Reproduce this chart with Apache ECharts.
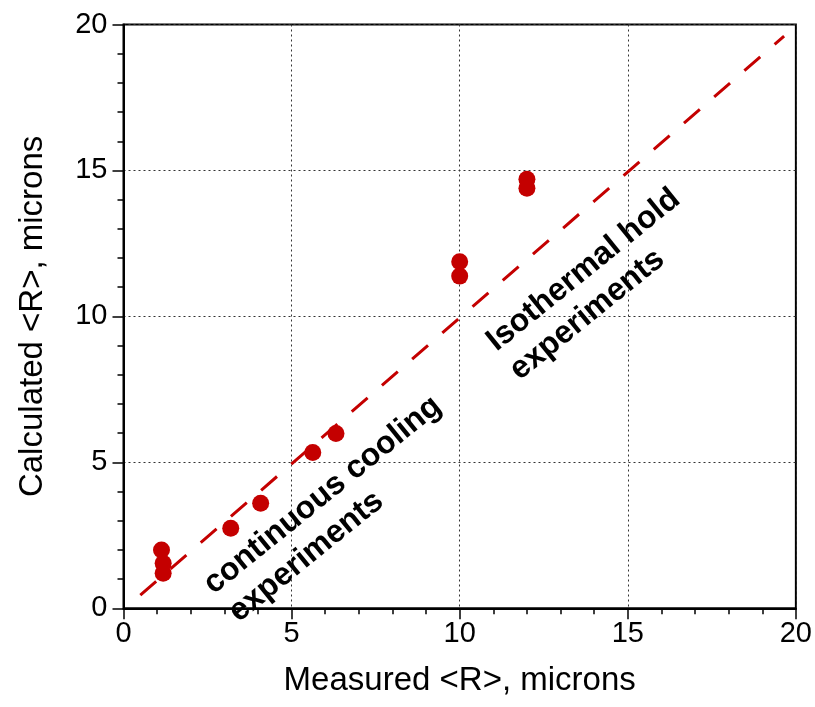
<!DOCTYPE html>
<html>
<head>
<meta charset="utf-8">
<script src="https://cdn.jsdelivr.net/npm/echarts@6/dist/echarts.min.js"></script>
<style>
  html, body { margin: 0; padding: 0; background: #fff; }
  #chart { width: 815px; height: 707px; }
</style>
</head>
<body>
<div id="chart"></div>
<script>
// Mean particle radius: measured vs. calculated (microns)
const measured   = [1.13, 1.18, 1.18, 3.19, 4.08, 5.63, 6.32, 10.0, 10.0, 12.0, 12.0];
const calculated = [2.0, 1.54, 1.2, 2.74, 3.6, 5.34, 5.99, 11.87, 11.38, 14.7, 14.39];

// 1:1 reference line end points
const parityX = [0.5, 19.65];
const parityY = [0.45, 19.6];

const axisTicks = [0, 5, 10, 15, 20];

const FONT = "'Liberation Sans', Arial, sans-serif";
const RED = '#c40000';

const chart = echarts.init(document.getElementById('chart'), null, { renderer: 'canvas' });

function axisCommon(name) {
  return {
    type: 'value',
    min: axisTicks[0],
    max: axisTicks[axisTicks.length - 1],
    interval: axisTicks[1] - axisTicks[0],
    name: name,
    nameLocation: 'middle',
    nameTextStyle: { fontFamily: FONT, fontSize: 33, color: '#000' },
    axisLine: { show: true, onZero: false, lineStyle: { color: '#000', width: 2 } },
    axisTick: { show: true, inside: false, length: 11, lineStyle: { color: '#000', width: 1.5 } },
    minorTick: { show: true, splitNumber: 5, length: 6, lineStyle: { color: '#000', width: 1.5 } },
    minorSplitLine: { show: false },
    splitLine: { show: true, lineStyle: { color: '#333', width: 1, type: [2, 3] } },
    axisLabel: { fontFamily: FONT, fontSize: 29, color: '#000' }
  };
}

const xAxis = axisCommon('Measured <R>, microns');
xAxis.nameGap = 56;
xAxis.axisLabel.margin = 11;

const yAxis = axisCommon('Calculated <R>, microns');
yAxis.nameGap = 74;
yAxis.axisLabel.margin = 16;

const ANGLE = 39 * Math.PI / 180;
function note(text, x, y) {
  return {
    type: 'text', x: x, y: y, rotation: ANGLE, z: 50,
    style: {
      text: text, fill: '#000', fontFamily: FONT, fontWeight: 'bold', fontSize: 32,
      align: 'left', verticalAlign: 'middle'
    }
  };
}

chart.setOption({
  animation: false,
  backgroundColor: '#fff',
  grid: {
    left: 123.5, right: 17.3, top: 24.5, bottom: 98.7,
    show: true, borderColor: '#000', borderWidth: 2, backgroundColor: 'transparent'
  },
  xAxis: xAxis,
  yAxis: yAxis,
  series: [
    {
      type: 'line',
      data: parityX.map((x, i) => [x, parityY[i]]),
      showSymbol: false,
      symbol: 'none',
      lineStyle: { color: RED, width: 3, type: [21, 19] },
      z: 2
    },
    {
      type: 'scatter',
      data: measured.map((x, i) => [x, calculated[i]]),
      symbol: 'circle',
      symbolSize: 17,
      itemStyle: { color: RED, opacity: 1 },
      z: 3
    }
  ],
  graphic: [
    note('continuous cooling', 208, 588),
    note('experiments', 233, 616),
    note('Isothermal hold', 491, 345),
    note('experiments', 514, 374)
  ]
});
</script>
</body>
</html>
